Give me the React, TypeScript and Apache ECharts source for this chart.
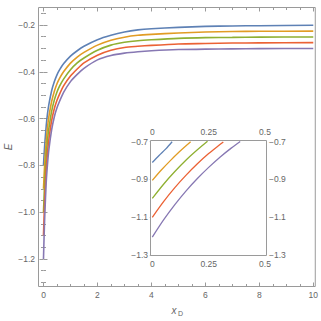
import React, { useEffect, useRef } from "react";
import * as echarts from "echarts";

// ---- data ----
const MAIN_X = [0, 0.02, 0.05, 0.1, 0.15, 0.2, 0.3, 0.4, 0.5, 0.6, 0.75, 1, 1.25, 1.5, 2, 2.5, 3, 3.5, 4, 5, 6, 7, 8, 10];
const MAIN_BLUE = [-0.8, -0.758, -0.704, -0.632, -0.578, -0.539, -0.482, -0.443, -0.413, -0.391, -0.365, -0.333, -0.31, -0.291, -0.263, -0.244, -0.23, -0.221, -0.216, -0.21, -0.206, -0.204, -0.203, -0.201];
const MAIN_ORANGE = [-0.9, -0.848, -0.783, -0.698, -0.636, -0.592, -0.528, -0.484, -0.451, -0.427, -0.399, -0.363, -0.337, -0.317, -0.286, -0.265, -0.252, -0.244, -0.24, -0.234, -0.23, -0.228, -0.227, -0.226];
const MAIN_GREEN = [-1.0, -0.938, -0.86, -0.76, -0.69, -0.642, -0.57, -0.521, -0.486, -0.46, -0.43, -0.391, -0.362, -0.341, -0.308, -0.286, -0.274, -0.267, -0.263, -0.257, -0.254, -0.253, -0.252, -0.251];
const MAIN_RED = [-1.1, -1.026, -0.935, -0.82, -0.742, -0.689, -0.61, -0.558, -0.522, -0.494, -0.459, -0.418, -0.388, -0.362, -0.329, -0.308, -0.296, -0.291, -0.287, -0.281, -0.279, -0.277, -0.2765, -0.2755];
const MAIN_PURPLE = [-1.2, -1.113, -1.007, -0.875, -0.793, -0.732, -0.649, -0.593, -0.554, -0.525, -0.487, -0.442, -0.411, -0.385, -0.349, -0.33, -0.32, -0.314, -0.31, -0.305, -0.303, -0.302, -0.301, -0.3005];

const INSET_BLUE_X = [0, 0.03, 0.06, 0.088];
const INSET_BLUE_Y = [-0.81, -0.773, -0.738, -0.7];
const INSET_ORANGE_X = [0, 0.04, 0.08, 0.12, 0.17];
const INSET_ORANGE_Y = [-0.905, -0.85, -0.8, -0.753, -0.7];
const INSET_GREEN_X = [0, 0.05, 0.1, 0.15, 0.2, 0.245];
const INSET_GREEN_Y = [-1.0, -0.925, -0.858, -0.797, -0.743, -0.698];
const INSET_RED_X = [0, 0.05, 0.1, 0.15, 0.2, 0.25, 0.3, 0.315];
const INSET_RED_Y = [-1.1, -1.017, -0.943, -0.877, -0.817, -0.763, -0.715, -0.701];
const INSET_PURPLE_X = [0, 0.05, 0.1, 0.15, 0.2, 0.25, 0.3, 0.35, 0.39];
const INSET_PURPLE_Y = [-1.205, -1.114, -1.033, -0.96, -0.895, -0.836, -0.782, -0.734, -0.699];

// ---- tick labels ----
const MAIN_X_TICKS = [0, 2, 4, 6, 8, 10];
const MAIN_X_MINOR = [0.5, 1, 1.5, 2.5, 3, 3.5, 4.5, 5, 5.5, 6.5, 7, 7.5, 8.5, 9, 9.5];
const MAIN_Y_TICKS = [-1.2, -1.0, -0.8, -0.6, -0.4, -0.2];
const MAIN_Y_MINOR = [-1.3, -1.25, -1.15, -1.1, -1.05, -0.95, -0.9, -0.85, -0.75, -0.7, -0.65, -0.55, -0.5, -0.45, -0.35, -0.3, -0.25, -0.15];
const INSET_X_TICKS = [0, 0.25, 0.5];
const INSET_Y_TICKS = [-1.3, -1.1, -0.9, -0.7];

const COLORS = ["#5E81B5", "#E19C24", "#8FB032", "#EB6235", "#8778B3"];
const FRAME = "#9a9a9a";
const LABEL = "#666666";
const FONT = "Liberation Sans, Arial, sans-serif";

const minus = (s: string) => s.replace("-", "\u2212");

export default function App() {
  const ref = useRef<HTMLDivElement>(null);

  useEffect(() => {
    if (!ref.current) return;
    const chart = echarts.init(ref.current, undefined, { renderer: "svg" });

    const xMin = -0.185, xMax = 10.074;
    const yMax = -0.1252, yMin = -1.3175;
    const ixMin = -0.008, ixMax = 0.5066;
    const iyMax = -0.6936, iyMin = -1.3024;

    const axis = (o: any) => ({
      type: "value",
      axisLine: { show: false },
      splitLine: { show: false },
      ...o,
    });
    const tick = (vals: number[], len: number) => ({
      show: true,
      inside: true,
      length: len,
      customValues: vals,
      lineStyle: { color: FRAME, width: 1 },
    });
    const label = (vals: number[], margin: number, fmt: (v: number) => string) => ({
      show: true,
      customValues: vals,
      margin,
      color: LABEL,
      fontSize: 8.5,
      fontFamily: FONT,
      formatter: fmt,
    });
    const noLabel = { show: false };
    const fx = (v: number) => minus(String(v));
    const fy = (v: number) => minus(v.toFixed(1));

    const xAxis = [
      axis({ gridIndex: 0, position: "bottom", min: xMin, max: xMax, axisTick: tick(MAIN_X_TICKS, 4), axisLabel: label(MAIN_X_TICKS, 4, fx) }),
      axis({ gridIndex: 0, position: "bottom", min: xMin, max: xMax, axisTick: tick(MAIN_X_MINOR, 2.5), axisLabel: noLabel }),
      axis({ gridIndex: 0, position: "top", min: xMin, max: xMax, axisTick: tick(MAIN_X_TICKS, 4), axisLabel: noLabel }),
      axis({ gridIndex: 0, position: "top", min: xMin, max: xMax, axisTick: tick(MAIN_X_MINOR, 2.5), axisLabel: noLabel }),
      axis({ gridIndex: 1, position: "bottom", min: ixMin, max: ixMax, axisTick: tick(INSET_X_TICKS, 2.5), axisLabel: label(INSET_X_TICKS, 4, fx) }),
      axis({ gridIndex: 1, position: "top", min: ixMin, max: ixMax, axisTick: tick(INSET_X_TICKS, 2.5), axisLabel: label(INSET_X_TICKS, 4, fx) }),
    ];
    const yAxis = [
      axis({ gridIndex: 0, position: "left", min: yMin, max: yMax, axisTick: tick(MAIN_Y_TICKS, 4), axisLabel: label(MAIN_Y_TICKS, 3.5, fy) }),
      axis({ gridIndex: 0, position: "left", min: yMin, max: yMax, axisTick: tick(MAIN_Y_MINOR, 2.5), axisLabel: noLabel }),
      axis({ gridIndex: 0, position: "right", min: yMin, max: yMax, axisTick: tick(MAIN_Y_TICKS, 4), axisLabel: noLabel }),
      axis({ gridIndex: 0, position: "right", min: yMin, max: yMax, axisTick: tick(MAIN_Y_MINOR, 2.5), axisLabel: noLabel }),
      axis({ gridIndex: 1, position: "left", min: iyMin, max: iyMax, axisTick: tick(INSET_Y_TICKS, 2.5), axisLabel: label(INSET_Y_TICKS, 2.5, fy) }),
      axis({ gridIndex: 1, position: "right", min: iyMin, max: iyMax, axisTick: tick(INSET_Y_TICKS, 2.5), axisLabel: label(INSET_Y_TICKS, 2.5, fy) }),
    ];

    const mainSets = [MAIN_BLUE, MAIN_ORANGE, MAIN_GREEN, MAIN_RED, MAIN_PURPLE];
    const insetSets = [
      [INSET_BLUE_X, INSET_BLUE_Y],
      [INSET_ORANGE_X, INSET_ORANGE_Y],
      [INSET_GREEN_X, INSET_GREEN_Y],
      [INSET_RED_X, INSET_RED_Y],
      [INSET_PURPLE_X, INSET_PURPLE_Y],
    ];

    const series: any[] = [];
    mainSets.forEach((ys, i) => {
      series.push({
        type: "line",
        xAxisIndex: 0,
        yAxisIndex: 0,
        data: MAIN_X.map((x, k) => [x, ys[k]]),
        showSymbol: false,
        symbol: "none",
        smooth: 0.25,
        lineStyle: { color: COLORS[i], width: 1.6 },
        z: 3,
      });
    });
    insetSets.forEach(([xs, ys], i) => {
      series.push({
        type: "line",
        xAxisIndex: 4,
        yAxisIndex: 4,
        data: xs.map((x, k) => [x, ys[k]]),
        showSymbol: false,
        symbol: "none",
        smooth: 0.3,
        lineStyle: { color: COLORS[i], width: 1.3 },
        z: 5,
      });
    });

    chart.setOption({
      animation: false,
      backgroundColor: "#ffffff",
      grid: [
        { left: 38.5, top: 7.5, width: 277, height: 279, show: true, borderColor: FRAME, borderWidth: 1, backgroundColor: "transparent" },
        { left: 150.5, top: 140.5, width: 116, height: 115, show: true, borderColor: FRAME, borderWidth: 1, backgroundColor: "#ffffff", z: 4 },
      ],
      xAxis,
      yAxis,
      series,
      graphic: [
        {
          type: "text",
          x: 8,
          y: 147,
          rotation: Math.PI / 2,
          style: { text: "E", fill: LABEL, fontSize: 10, fontFamily: FONT, fontStyle: "italic", align: "center", verticalAlign: "middle" },
        },
        {
          type: "text",
          x: 174,
          y: 310,
          style: { text: "x", fill: LABEL, fontSize: 10, fontFamily: FONT, fontStyle: "italic", align: "center", verticalAlign: "middle" },
        },
        {
          type: "text",
          x: 180.5,
          y: 313,
          style: { text: "D", fill: LABEL, fontSize: 7, fontFamily: FONT, align: "center", verticalAlign: "middle" },
        },
      ],
    });

    return () => chart.dispose();
  }, []);

  return (
    <div
      ref={ref}
      style={{ position: "fixed", left: 0, top: 0, width: 321, height: 321, background: "#fff" }}
    />
  );
}
